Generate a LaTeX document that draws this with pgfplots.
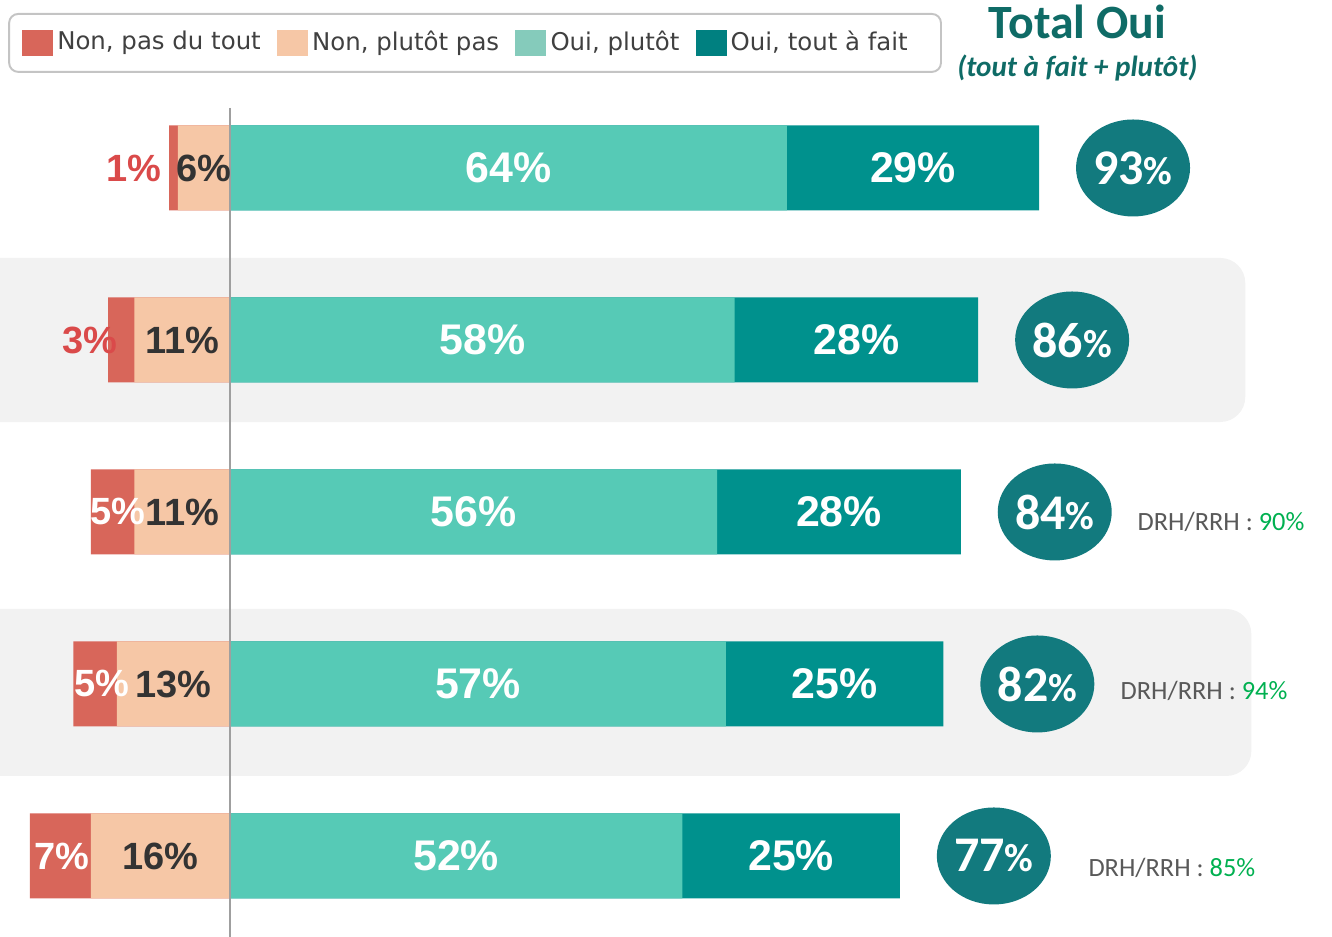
\documentclass[border=0pt]{standalone}
\usepackage{fontspec}
\setmainfont{Liberation Sans}
\newfontfamily\carlito{Carlito}
\newfontfamily\dejavu{DejaVu Sans}
\usepackage{pgfplots}
\pgfplotsset{compat=1.18}
\usepackage{pgfplotstable}
\usetikzlibrary{shapes.geometric}

\definecolor{rouge}{HTML}{D8665A}
\definecolor{peche}{HTML}{F6C7A6}
\definecolor{turq}{HTML}{56CAB6}
\definecolor{tealdark}{HTML}{00918D}
\definecolor{legturq}{HTML}{85CBBB}
\definecolor{legteal}{HTML}{008080}
\definecolor{cercle}{HTML}{127A7E}
\definecolor{titre}{HTML}{0F6B66}
\definecolor{labrouge}{HTML}{DA4A4A}
\definecolor{labsombre}{HTML}{333333}
\definecolor{drhgris}{HTML}{595959}
\definecolor{drhvert}{HTML}{00B050}
\definecolor{bande}{HTML}{F2F2F2}
\definecolor{legbord}{HTML}{C4C4C4}
\definecolor{legtexte}{HTML}{404040}

% np = Non, plutot pas ; nr = Non, pas du tout ; op = Oui, plutot ; ot = Oui, tout a fait
\pgfplotstableread{
row np nr op ot
1 6 1 64 29
2 11 3 58 28
3 11 5 56 28
4 13 5 57 25
5 16 7 52 25
}\data

\begin{document}
\begin{tikzpicture}
\begin{axis}[
    width=13.32cm, height=9.37cm, scale only axis,
    xmin=-26.44, xmax=126.67,
    ymin=0.0233, ymax=5.471, y dir=reverse,
    hide axis,
    /pgf/number format/assume math mode=true,
    legend columns=4,
    legend style={at={(axis cs:-25.5,0.0988)}, anchor=north west,
      draw=legbord, line width=0.55pt, rounded corners=0.09cm, fill=white,
      font=\dejavu\fontsize{6.95}{8}\selectfont, text=legtexte,
      inner xsep=0.13cm, inner ysep=0.16cm,
      nodes={inner xsep=0.042cm, inner ysep=0pt},
      /tikz/every even column/.append style={column sep=0.12cm}},
    ]
% bandes grises
\fill[bande, rounded corners=0.25cm] (axis cs:-40,1.523) rectangle (axis cs:116.7,2.477);
\fill[bande, rounded corners=0.25cm] (axis cs:-40,3.564) rectangle (axis cs:117.4,4.535);

% barres
\addplot[xbar, bar width=0.85cm, bar shift=0pt, fill=rouge, draw=none, forget plot]
    table[x expr=-\thisrow{np}-\thisrow{nr}, y=row] {\data};
\addplot[xbar, bar width=0.85cm, bar shift=0pt, fill=peche, draw=none, forget plot]
    table[x expr=-\thisrow{np}, y=row] {\data};
\addplot[xbar, bar width=0.85cm, bar shift=0pt, fill=tealdark, draw=none, forget plot]
    table[x expr=\thisrow{op}+\thisrow{ot}, y=row] {\data};
\addplot[xbar, bar width=0.85cm, bar shift=0pt, fill=turq, draw=none, forget plot]
    table[x=op, y=row] {\data};

\draw[gray!75, line width=0.5pt] (axis cs:0,0.651) -- (axis cs:0,5.471);

% etiquettes
\addplot[only marks, mark=none, forget plot, point meta=\thisrow{op},
    nodes near coords={\pgfmathprintnumber{\pgfplotspointmeta}\%},
    every node near coord/.append style={anchor=center, text=white,
      font=\bfseries\fontsize{12.2}{14}\selectfont}]
    table[x expr=\thisrow{op}/2, y=row] {\data};
\addplot[only marks, mark=none, forget plot, point meta=\thisrow{ot},
    nodes near coords={\pgfmathprintnumber{\pgfplotspointmeta}\%},
    every node near coord/.append style={anchor=center, text=white,
      font=\bfseries\fontsize{12.2}{14}\selectfont}]
    table[x expr=\thisrow{op}+\thisrow{ot}/2, y=row] {\data};
\addplot[only marks, mark=none, forget plot, point meta=\thisrow{np},
    nodes near coords={\pgfmathprintnumber{\pgfplotspointmeta}\%},
    every node near coord/.append style={anchor=center, text=labsombre,
      font=\bfseries\fontsize{10.8}{13}\selectfont}]
    table[x expr=-\thisrow{np}/2, y=row] {\data};
\addplot[only marks, mark=none, forget plot, point meta=explicit,
    nodes near coords={\pgfmathprintnumber{\pgfplotspointmeta}\%},
    every node near coord/.append style={anchor=center, text=labrouge,
      font=\bfseries\fontsize{10.8}{13}\selectfont}]
    coordinates {(-11.1,1) [1] (-16.1,2) [3]};
\addplot[only marks, mark=none, forget plot, point meta=explicit,
    nodes near coords={\pgfmathprintnumber{\pgfplotspointmeta}\%},
    every node near coord/.append style={anchor=center, text=white,
      font=\bfseries\fontsize{10.8}{13}\selectfont}]
    coordinates {(-12.9,3) [5] (-14.7,4) [5] (-19.3,5) [7]};

% total oui
\addplot[only marks, mark=none, forget plot, point meta={\thisrow{op}+\thisrow{ot}},
    nodes near coords={\pgfmathprintnumber{\pgfplotspointmeta}{\fontsize{11.2}{11}\selectfont\%}},
    every node near coord/.append style={anchor=center, ellipse, fill=cercle,
      text=white, minimum width=1.14cm, minimum height=0.97cm, inner sep=0pt,
      font=\carlito\bfseries\fontsize{14.2}{16}\selectfont}]
    table[x expr=\thisrow{op}+\thisrow{ot}+10.8, y=row] {\data};

% DRH/RRH
\addplot[only marks, mark=none, forget plot, point meta=explicit,
    nodes near coords={\textcolor{drhgris}{DRH/RRH : }\textcolor{drhvert}{\pgfmathprintnumber{\pgfplotspointmeta}\%}},
    every node near coord/.append style={anchor=west, inner sep=0pt,
      font=\carlito\fontsize{7.5}{9}\selectfont}]
    coordinates {(104.25,3.06) [90] (102.3,4.04) [94] (98.6,5.07) [85]};

\node[text=titre, font=\carlito\bfseries\fontsize{13.6}{16}\selectfont]
    at (axis cs:97.4,0.151) {Total Oui};
\node[text=titre, font=\carlito\bfseries\itshape\fontsize{8.3}{10}\selectfont]
    at (axis cs:97.4,0.419) {(tout à fait + plutôt)};

\addlegendimage{legend image code/.code={\fill[rouge, sharp corners] (0cm,-0.12cm) rectangle (0.29cm,0.12cm);}}
\addlegendentry{Non, pas du tout}
\addlegendimage{legend image code/.code={\fill[peche, sharp corners] (0cm,-0.12cm) rectangle (0.29cm,0.12cm);}}
\addlegendentry{Non, plutôt pas}
\addlegendimage{legend image code/.code={\fill[legturq, sharp corners] (0cm,-0.12cm) rectangle (0.29cm,0.12cm);}}
\addlegendentry{Oui, plutôt}
\addlegendimage{legend image code/.code={\fill[legteal, sharp corners] (0cm,-0.12cm) rectangle (0.29cm,0.12cm);}}
\addlegendentry{Oui, tout à fait\kern0.16cm\rule{0pt}{1pt}}
\end{axis}
\pgfresetboundingbox
\useasboundingbox (current axis.south west) rectangle (current axis.north east);
\end{tikzpicture}
\end{document}
